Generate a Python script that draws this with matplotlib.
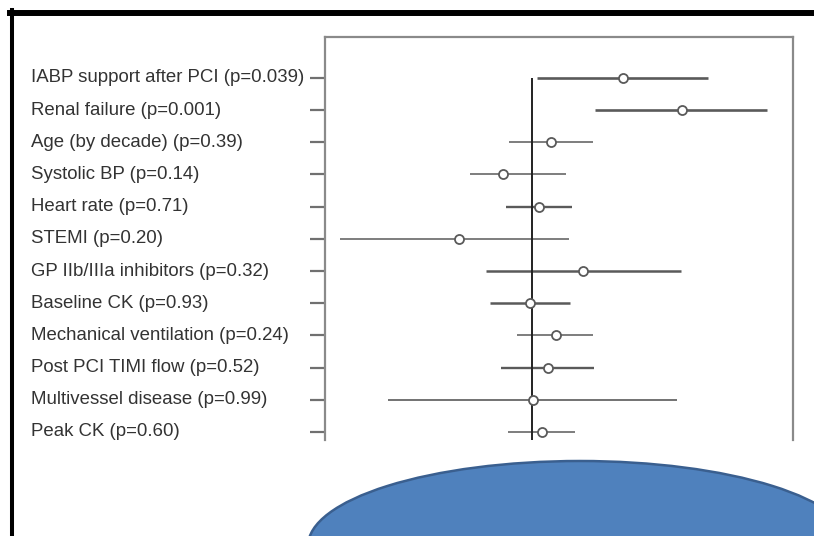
import matplotlib
matplotlib.use("Agg")
import matplotlib.pyplot as plt
from matplotlib.lines import Line2D
from matplotlib.patches import Ellipse
from matplotlib.transforms import blended_transform_factory

plt.rcParams["font.family"] = ["Liberation Sans", "DejaVu Sans"]

# multivariable predictors, odds ratios with 95% CI
labels = [
    "IABP support after PCI (p=0.039)",
    "Renal failure (p=0.001)",
    "Age (by decade) (p=0.39)",
    "Systolic BP (p=0.14)",
    "Heart rate (p=0.71)",
    "STEMI (p=0.20)",
    "GP IIb/IIIa inhibitors (p=0.32)",
    "Baseline CK (p=0.93)",
    "Mechanical ventilation (p=0.24)",
    "Post PCI TIMI flow (p=0.52)",
    "Multivessel disease (p=0.99)",
    "Peak CK (p=0.60)",
]
odds_ratio = [2.85, 5.62, 1.24, 0.72, 1.08, 0.43, 1.80, 0.98, 1.32, 1.20, 1.01, 1.12]
ci_low = [1.06, 2.07, 0.77, 0.49, 0.74, 0.11, 0.59, 0.62, 0.84, 0.70, 0.19, 0.76]
ci_high = [7.59, 14.96, 2.02, 1.48, 1.58, 1.53, 5.56, 1.55, 2.02, 2.04, 5.31, 1.64]

# heavier strokes on some rows
line_w = [1.9, 1.9, 1.1, 1.1, 1.7, 1.1, 1.8, 1.8, 1.1, 1.7, 1.2, 1.1]

W, H = 814, 536
fig = plt.figure(figsize=(W / 100, H / 100), dpi=100)
ax = fig.add_axes([325 / W, 1 - 440 / H, (793 - 325) / W, (440 - 37) / H])

rows = list(range(len(labels)))
for y, lo, hi, lw in zip(rows, ci_low, ci_high, line_w):
    ax.plot([lo, hi], [y, y], color="#5a5a5a", lw=lw, solid_capstyle="butt", zorder=2)
ax.vlines(1.0, 0, 11.3, color="#222222", lw=1.4, zorder=3)
ax.plot(odds_ratio, rows, "o", ms=6.5, mfc="white", mec="#5a5a5a", mew=1.3,
        linestyle="none", zorder=4)

ax.set_xscale("log")
ax.set_xlim(0.0923, 20.18)
ax.set_ylim(11.25, -1.27)
ax.set_xticks([])
ax.minorticks_off()
ax.set_yticks(rows)
ax.set_yticklabels([])
ax.tick_params(axis="y", length=10.5, width=1.6, color="#707070", direction="out")

for side in ("top", "left", "right"):
    ax.spines[side].set_color("#8a8a8a")
    ax.spines[side].set_linewidth(1.6)
ax.spines["bottom"].set_visible(False)

trans = blended_transform_factory(fig.transFigure, ax.transData)
for y, lab in zip(rows, labels):
    fig.text(31 / W, y, lab, transform=trans, ha="left", va="center",
             fontsize=13.4, color="#333333")

# slide frame
fig.add_artist(Line2D([10 / W, 1], [1 - 13 / H, 1 - 13 / H], color="black", lw=4.3,
                      transform=fig.transFigure))
fig.add_artist(Line2D([12 / W, 12 / W], [0, 1 - 10 / H], color="black", lw=2.9,
                      transform=fig.transFigure))

# blue callout shape
fig.add_artist(Ellipse((580 / W, 1 - 546 / H), 544 / W, 170 / H, transform=fig.transFigure,
                       facecolor="#4f81bd", edgecolor="#3a5f8f", lw=1.8, zorder=5))

fig.savefig("out.png", dpi=100)
